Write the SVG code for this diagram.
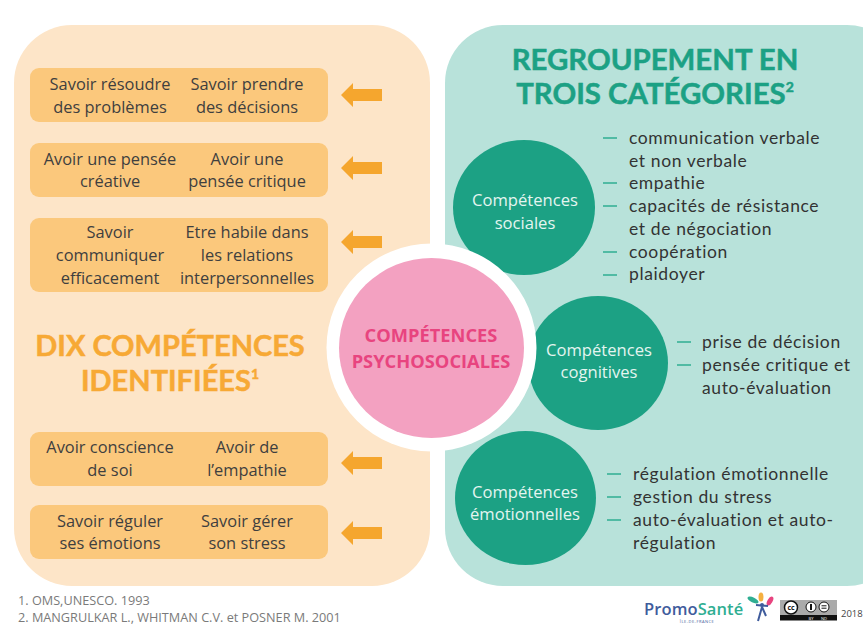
<svg xmlns="http://www.w3.org/2000/svg" width="863" height="626" viewBox="0 0 863 626">
<style>
text{font-family:"Open Sans","Liberation Sans",sans-serif}
.box{fill:#fbc87c}
.bt{font-size:16.4px;fill:#3f3f3f;text-anchor:middle}
.arrow{fill:#f5a62e}
.dash{stroke:#2fae92;stroke-width:1.6;fill:none}
.lt{font-family:"Lato","Liberation Sans",sans-serif;font-size:17.5px;letter-spacing:.62px;fill:#333}
.circ{fill:#1ca184}
.ct{font-size:16.6px;fill:#e4f5f0;text-anchor:middle}
.ttl{font-family:"Lato","Liberation Sans",sans-serif;font-weight:700;font-size:29px;text-anchor:middle;stroke-width:.5px}
.fn{font-size:12.7px;fill:#7a7a7a}
</style>
<g id="panel-left"><rect x="14" y="25" width="416" height="561" rx="58" fill="#fde5c8"/></g>
<g id="panel-right"><rect x="445" y="25" width="460" height="561" rx="58" fill="#b8e2da"/></g>

<g id="title-left">
<text class="ttl" x="170" y="356" fill="#f7a935" stroke="#f7a935">DIX COMPÉTENCES</text>
<text class="ttl" x="170" y="391" fill="#f7a935" stroke="#f7a935">IDENTIFIÉES<tspan font-size="14" dy="-12">1</tspan></text>
</g>
<g id="title-right">
<text class="ttl" x="655" y="70" fill="#1ca184" stroke="#1ca184" style="font-size:29.4px">REGROUPEMENT EN</text>
<text class="ttl" x="655" y="104" fill="#1ca184" stroke="#1ca184" style="font-size:29.4px">TROIS CATÉGORIES<tspan font-size="14" dy="-12">2</tspan></text>
</g>

<g id="box-1"><rect class="box" x="30" y="68" width="298" height="54" rx="9"/>
<text class="bt" x="110" y="90">Savoir résoudre</text><text class="bt" x="110" y="113">des problèmes</text>
<text class="bt" x="247" y="90">Savoir prendre</text><text class="bt" x="247" y="113">des décisions</text></g>
<g id="box-2"><rect class="box" x="30" y="143" width="298" height="54" rx="9"/>
<text class="bt" x="110" y="164.500">Avoir une pensée</text><text class="bt" x="110" y="187">créative</text>
<text class="bt" x="247" y="164.500">Avoir une</text><text class="bt" x="247" y="187">pensée critique</text></g>
<g id="box-3"><rect class="box" x="30" y="218" width="298" height="74" rx="9"/>
<text class="bt" x="110" y="238">Savoir</text><text class="bt" x="110" y="261">communiquer</text><text class="bt" x="110" y="284">efficacement</text>
<text class="bt" x="247" y="238">Etre habile dans</text><text class="bt" x="247" y="261">les relations</text><text class="bt" x="247" y="284">interpersonnelles</text></g>
<g id="box-4"><rect class="box" x="30" y="432" width="298" height="54" rx="9"/>
<text class="bt" x="110" y="453">Avoir conscience</text><text class="bt" x="110" y="476">de soi</text>
<text class="bt" x="247" y="453">Avoir de</text><text class="bt" x="247" y="476">l’empathie</text></g>
<g id="box-5"><rect class="box" x="30" y="505" width="298" height="54" rx="9"/>
<text class="bt" x="110" y="527">Savoir réguler</text><text class="bt" x="110" y="549">ses émotions</text>
<text class="bt" x="247" y="527">Savoir gérer</text><text class="bt" x="247" y="549">son stress</text></g>

<g id="connectors">
<polygon class="arrow" points="341,95 353,83 353,89 382,89 382,101 353,101 353,107"/>
<polygon class="arrow" points="341,168 353,156 353,162 382,162 382,174 353,174 353,180"/>
<polygon class="arrow" points="341,242 353,230 353,236 382,236 382,248 353,248 353,254"/>
<polygon class="arrow" points="341,463 353,451 353,457 382,457 382,469 353,469 353,475"/>
<polygon class="arrow" points="341,533 353,521 353,527 382,527 382,539 353,539 353,545"/>
</g>

<g id="node-sociales"><ellipse class="circ" cx="524" cy="207.500" rx="71" ry="67.500"/>
<text class="ct" x="525" y="206">Compétences</text><text class="ct" x="525" y="229">sociales</text></g>
<g id="node-cognitives"><ellipse class="circ" cx="598" cy="363" rx="70" ry="67"/>
<text class="ct" x="599" y="355.500">Compétences</text><text class="ct" x="599" y="378">cognitives</text></g>
<g id="node-emotionnelles"><ellipse class="circ" cx="525.500" cy="498" rx="70.500" ry="67"/>
<text class="ct" x="525" y="497.500">Compétences</text><text class="ct" x="525" y="520">émotionnelles</text></g>

<g id="node-centre">
<ellipse cx="431.500" cy="347.500" rx="105" ry="104" fill="#fff"/>
<ellipse cx="431.500" cy="348" rx="92.500" ry="90" fill="#f3a1c1"/>
<text x="431" y="342" font-size="18.300" font-weight="700" fill="#e8447f" text-anchor="middle">COMPÉTENCES</text>
<text x="431" y="368" font-size="18.300" font-weight="700" fill="#e8447f" text-anchor="middle">PSYCHOSOCIALES</text>
</g>

<g id="list-sociales">
<path class="dash" d="M603 138h14M603 183h14M603 206h14M603 252h14M603 275h14"/>
<text class="lt" x="629" y="143.500">communication verbale</text>
<text class="lt" x="629" y="166.500">et non verbale</text>
<text class="lt" x="629" y="189">empathie</text>
<text class="lt" x="629" y="212">capacités de résistance</text>
<text class="lt" x="629" y="235">et de négociation</text>
<text class="lt" x="629" y="257.500">coopération</text>
<text class="lt" x="629" y="280">plaidoyer</text>
</g>
<g id="list-cognitives">
<path class="dash" d="M677 342h14M677 365h14"/>
<text class="lt" x="702" y="348">prise de décision</text>
<text class="lt" x="702" y="371">pensée critique et</text>
<text class="lt" x="702" y="394">auto-évaluation</text>
</g>
<g id="list-emotionnelles">
<path class="dash" d="M607 474h14M607 497h14M607 520h14"/>
<text class="lt" x="633" y="480">régulation émotionnelle</text>
<text class="lt" x="633" y="503">gestion du stress</text>
<text class="lt" x="633" y="526">auto-évaluation et auto-</text>
<text class="lt" x="633" y="549">régulation</text>
</g>

<g id="footnotes">
<text class="fn" x="18" y="605">1. OMS,UNESCO. 1993</text>
<text class="fn" x="18" y="622">2. MANGRULKAR L., WHITMAN C.V. et POSNER M. 2001</text>
</g>

<g id="logo">
<text x="644" y="615" font-family="Lato,'Liberation Sans',sans-serif" font-size="16.500" font-weight="600" letter-spacing=".1"><tspan fill="#3f5c9c">Promo</tspan><tspan fill="#2fae92">Santé</tspan></text>
<text x="697" y="623" font-size="4" font-family="'Liberation Sans',sans-serif" fill="#3f5c9c" text-anchor="middle" letter-spacing=".5">ÎLE-DE-FRANCE</text>
<ellipse cx="753" cy="600" rx="6" ry="2.500" fill="#2fae92" transform="rotate(25 753 600)"/>
<ellipse cx="761" cy="597" rx="2.500" ry="4.500" fill="#f5b041"/>
<ellipse cx="770" cy="601" rx="2.500" ry="5" fill="#e8447f" transform="rotate(30 770 601)"/>
<circle cx="762" cy="605" r="2" fill="#3f5c9c"/>
<path d="M762 607 L758 621 M762 607 L766 616 M756 605 L768 606" stroke="#3f5c9c" stroke-width="2" fill="none"/>
</g>
<g id="cc-badge">
<rect x="780" y="600" width="57" height="20" fill="#aaa"/>
<rect x="780" y="615" width="57" height="5.500" fill="#111"/>
<circle cx="791" cy="607.500" r="6.500" fill="#fff" stroke="#111" stroke-width="1.500"/>
<text x="791" y="610" font-size="7" font-weight="700" font-family="'Liberation Sans',sans-serif" fill="#111" text-anchor="middle">cc</text>
<circle cx="811" cy="607" r="5" fill="#fff" stroke="#111"/>
<path d="M811 604v6" stroke="#111" stroke-width="2"/>
<circle cx="824" cy="607" r="5" fill="#fff" stroke="#111"/>
<path d="M821.500 605.800h5M821.500 608.200h5" stroke="#111" stroke-width="1"/>
<text x="811" y="619.500" font-size="4" font-family="'Liberation Sans',sans-serif" fill="#fff" text-anchor="middle">BY</text>
<text x="824" y="619.500" font-size="4" font-family="'Liberation Sans',sans-serif" fill="#fff" text-anchor="middle">ND</text>
<text x="841" y="617" font-size="9.500" font-family="'Liberation Sans',sans-serif" fill="#444">2018</text>
</g>
</svg>
